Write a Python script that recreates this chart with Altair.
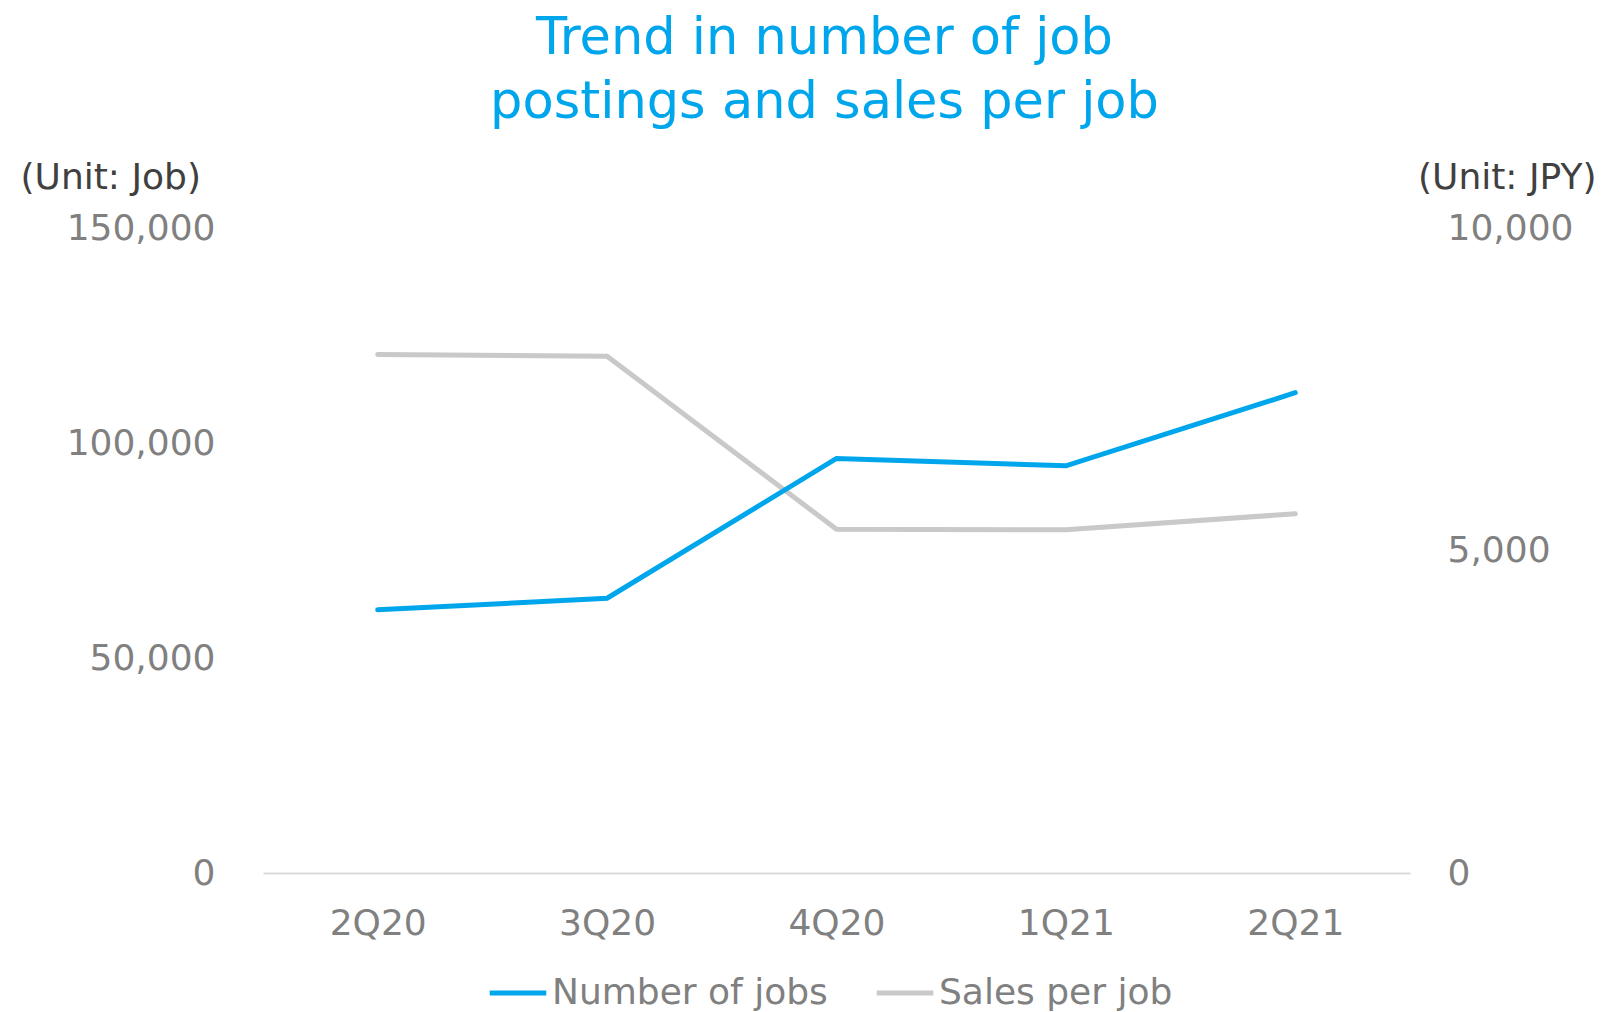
import altair as alt
import pandas as pd

quarters = ["2Q20", "3Q20", "4Q20", "1Q21", "2Q21"]
jobs = [61200, 63900, 96400, 94700, 111700]
sales_per_job = [8040, 8010, 5330, 5320, 5570]
series_names = ["Number of jobs", "Sales per job"]
left_ticks = [0, 50000, 100000, 150000]
right_ticks = [0, 5000, 10000]

rows = []
for q, j, s in zip(quarters, jobs, sales_per_job):
    rows.append({"quarter": q, "series": series_names[0], "value": j})
    rows.append({"quarter": q, "series": series_names[1], "value": s})
df = pd.DataFrame(rows)

FONT = "DejaVu Sans"
BLUE = "#00A6EC"
GRAY = "#C9C9C9"
LABEL_GRAY = "#808080"

color = alt.Color(
    "series:N",
    scale=alt.Scale(domain=series_names, range=[BLUE, GRAY]),
    legend=alt.Legend(
        title=None,
        orient="none",
        direction="horizontal",
        legendX=224,
        legendY=734,
        symbolType="stroke",
        symbolSize=3200,
        symbolStrokeWidth=5,
        labelFontSize=36,
        labelColor=LABEL_GRAY,
        labelFont=FONT,
        labelOffset=3,
        columnPadding=38,
        padding=0,
        labelLimit=400,
    ),
)

x = alt.X(
    "quarter:N",
    sort=quarters,
    scale=alt.Scale(type="point", padding=0.5),
    axis=alt.Axis(
        title=None,
        labelAngle=0,
        labelFontSize=36,
        labelColor=LABEL_GRAY,
        labelFont=FONT,
        labelPadding=33,
        ticks=False,
        domainColor="#D9D9D9",
        domainWidth=2,
        grid=False,
    ),
)

left = alt.Chart(df).transform_filter(
    alt.datum.series == series_names[0]
).mark_line(strokeWidth=5, strokeCap="round").encode(
    x=x,
    y=alt.Y(
        "value:Q",
        scale=alt.Scale(domain=[0, 150000], nice=False),
        axis=alt.Axis(
            orient="left",
            values=left_ticks,
            format=",d",
            title="(Unit: Job)",
            titleAngle=0,
            titleAlign="left",
            titleBaseline="alphabetic",
            titleX=-243,
            titleY=-40,
            titleFontSize=36,
            titleFontWeight="normal",
            titleColor="#404040",
            titleFont=FONT,
            labelFontSize=36,
            labelColor=LABEL_GRAY,
            labelFont=FONT,
            labelPadding=48,
            domain=False,
            ticks=False,
            grid=False,
        ),
    ),
    color=color,
)

right = alt.Chart(df).transform_filter(
    alt.datum.series == series_names[1]
).mark_line(strokeWidth=5, strokeCap="round").encode(
    x=x,
    y=alt.Y(
        "value:Q",
        scale=alt.Scale(domain=[0, 10000], nice=False),
        axis=alt.Axis(
            orient="right",
            values=right_ticks,
            format=",d",
            title="(Unit: JPY)",
            titleAngle=0,
            titleAlign="right",
            titleBaseline="alphabetic",
            titleX=186,
            titleY=-40,
            titleFontSize=36,
            titleFontWeight="normal",
            titleColor="#404040",
            titleFont=FONT,
            labelFontSize=36,
            labelColor=LABEL_GRAY,
            labelFont=FONT,
            labelPadding=37,
            domain=False,
            ticks=False,
            grid=False,
        ),
    ),
    color=color,
)

chart = alt.layer(right, left).resolve_scale(y="independent").properties(
    width=1147,
    height=645,
    autosize=alt.AutoSizeParams(type="none"),
    padding={"left": 263, "top": 228, "right": 191, "bottom": 139},
    title=alt.TitleParams(
        text=["Trend in number of job", "postings and sales per job"],
        font=FONT,
        fontSize=51,
        fontWeight="normal",
        color=BLUE,
        lineHeight=64,
        anchor="middle",
        offset=30,
        dx=-12,
    ),
).configure_view(stroke=None)

chart.save("out.html", embed_options={"renderer": "svg", "actions": False})
